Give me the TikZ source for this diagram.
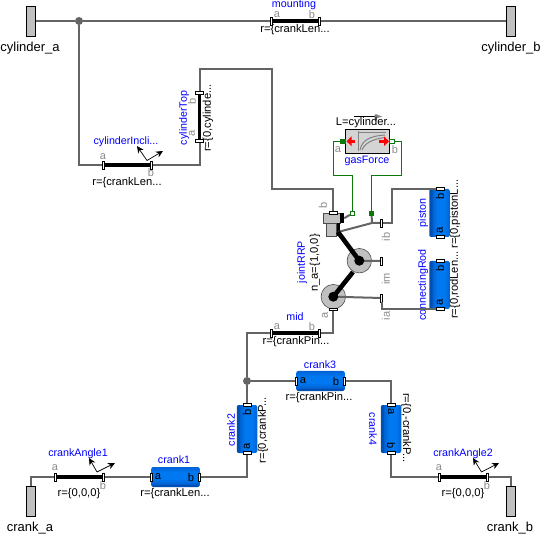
\documentclass[tikz,border=0pt]{standalone}
\usepackage{xcolor}
\usepackage{fontspec}
\setmainfont{Liberation Sans}
\usetikzlibrary{
  arrows.meta,
  shapes,
  shapes.geometric,
  calc
}
\definecolor{msWire}{HTML}{646464}
\definecolor{msGreen}{HTML}{0A780A}
\definecolor{msBlue}{HTML}{0000FF}
\definecolor{msMute}{HTML}{8C8C8C}
\definecolor{msFlange}{HTML}{C0C0C0}
\definecolor{msBox}{HTML}{D4D4D4}
\definecolor{msDark}{HTML}{0050B4}
\definecolor{msBright}{HTML}{0078F0}
\definecolor{msMid}{HTML}{0062D4}
\pgfdeclareverticalshading{rodshade}{100bp}{
  color(0bp)=(msDark); color(31bp)=(msDark); color(33bp)=(msMid);
  color(45bp)=(msBright); color(62bp)=(msBright); color(75bp)=(msMid); color(100bp)=(msMid)
}
\tikzset{
  flange/.style={draw, line width=0.9pt, fill=msFlange, minimum width=9pt, minimum height=30pt, inner sep=0pt},
  hcap/.style={draw, line width=0.8pt, fill=white, minimum width=8pt, minimum height=2.6pt, inner sep=0pt},
  vcap/.style={draw, line width=0.8pt, fill=white, minimum width=2.6pt, minimum height=8pt, inner sep=0pt},
  hbody/.style={rounded corners=2pt, minimum width=48.5pt, minimum height=20pt, inner sep=0pt, shading=rodshade, shading angle=0},
  vbody/.style={rounded corners=2pt, minimum width=20.5pt, minimum height=48pt, inner sep=0pt, shading=rodshade, shading angle=-90},
  dot/.style={circle, fill=msWire, minimum size=8pt, inner sep=0pt},
  disc/.style={circle, draw=black!70, line width=0.6pt, fill=msFlange, minimum size=24.5pt, inner sep=0pt},
  hub/.style={circle, fill=black, minimum size=10pt, inner sep=0pt},
  gport/.style={draw=msGreen, line width=0.9pt, fill=white, minimum size=4.4pt, inner sep=0pt},
  fport/.style={gport, fill=msGreen},
  wire/.style={draw=msWire, line width=2pt},
  gwire/.style={draw=msGreen, line width=1.3pt},
  rodline/.style={line width=3.4pt, black},
  linkline/.style={line width=4.6pt, black},
  frame/.style={-{Stealth[length=7pt, width=6.5pt]}, line width=0.7pt, black},
  force/.style={-{Triangle[length=5pt, width=9.5pt]}, line width=3.2pt, red},
  iconline/.style={draw=msWire!80, line width=1pt},
  title/.style={font=\fontsize{10.7}{12}\selectfont, text=msBlue, inner sep=0pt},
  param/.style={font=\fontsize{11.2}{12}\selectfont, text=black, inner sep=0pt},
  port/.style={font=\fontsize{11}{12}\selectfont, text=msMute, inner sep=0pt},
  inport/.style={font=\fontsize{11.2}{12}\selectfont, text=black, inner sep=0pt},
  flabel/.style={font=\fontsize{13}{14}\selectfont, text=black, inner sep=0pt}
}
\begin{document}
\begin{tikzpicture}[x=1pt, y=-1pt]
  \useasboundingbox[fill=white] (0,0) rectangle (541,537);

  \node[flange] (cylinderA) at (31,21) {};
  \node[flange] (cylinderB) at (511,21) {};
  \node[flange] (crankA) at (31,501) {};
  \node[flange] (crankB) at (511,501) {};
  \node[flabel] (cylinderAText) at (30,48) {cylinder\_a};
  \node[flabel] (cylinderBText) at (511,48) {cylinder\_b};
  \node[flabel] (crankAText) at (30,528) {crank\_a};
  \node[flabel] (crankBText) at (510,528) {crank\_b};
  \node[dot] (topDot) at (79,21) {};
  \node[dot] (midDot) at (247,381) {};

  \node[title] (mountingText) at (294,5) {mounting};
  \node[param] (mountingParam) at (295,29.5) {r=\{crankLen...};
  \node[port] (mountingAText) at (277,15) {a};
  \node[port] (mountingBText) at (312,15) {b};
  \node[title] (inclineText) at (126,141.5) {cylinderIncli...};
  \node[param] (inclineParam) at (127,182.5) {r=\{crankLen...};
  \node[port] (inclineAText) at (103,157) {a};
  \node[port] (inclineBText) at (151,172.5) {b};
  \node[title, rotate=90] (topText) at (184,118) {cylinderTop};
  \node[param, rotate=90] (topParam) at (208,118) {r=\{0,cylinde...};
  \node[port, rotate=90] (topAText) at (192,133) {a};
  \node[port, rotate=90] (topBText) at (192,101) {b};

  \node[title] (midText) at (295,317) {mid};
  \node[param] (midParam) at (296,341.5) {r=\{crankPin...};
  \node[port] (midAText) at (277,327) {a};
  \node[port] (midBText) at (312,327) {b};
  \node[title] (crankOneText) at (174,460) {crank1};
  \node[param] (crankOneParam) at (175,493.5) {r=\{crankLen...};
  \node[title] (crankThreeText) at (320,364.5) {crank3};
  \node[param] (crankThreeParam) at (319,397.5) {r=\{crankPin...};
  \node[title, rotate=90] (crankTwoText) at (231,430) {crank2};
  \node[param, rotate=90] (crankTwoParam) at (263,430) {r=\{0,crankP...};
  \node[title, rotate=-90] (crankFourText) at (373,429) {crank4};
  \node[param, rotate=-90] (crankFourParam) at (406,428) {r=\{0,-crankP...};
  \node[title] (angleOneText) at (78,453.5) {crankAngle1};
  \node[param] (angleOneParam) at (79,493.5) {r=\{0,0,0\}};
  \node[port] (angleOneAText) at (55,468) {a};
  \node[port] (angleOneBText) at (103,486) {b};
  \node[title] (angleTwoText) at (463,453.5) {crankAngle2};
  \node[param] (angleTwoParam) at (463,493.5) {r=\{0,0,0\}};
  \node[port] (angleTwoAText) at (439,468) {a};
  \node[port] (angleTwoBText) at (487,486) {b};

  \node[title, rotate=90] (pistonText) at (423,213) {piston};
  \node[param, rotate=90] (pistonParam) at (455,214) {r=\{0,pistonL...};
  \node[title, rotate=90] (rodText) at (423,285) {connectingRod};
  \node[param, rotate=90] (rodParam) at (455,285) {r=\{0,rodLen...};
  \node[title, rotate=90] (jointText) at (302,262) {jointRRP};
  \node[param, rotate=90] (jointParam) at (315,263) {n\_a=\{1,0,0\}};
  \node[port, rotate=90] (jointBText) at (323,205) {b};
  \node[port, rotate=90] (jointAText) at (325,315) {a};
  \node[port, rotate=90] (ibText) at (386,237) {ib};
  \node[port, rotate=90] (imText) at (386,279) {im};
  \node[port, rotate=90] (iaText) at (386,316) {ia};

  \node[hbody] (crankOne) at (175.5,477) {};
  \node[hbody] (crankThree) at (320.5,381) {};
  \node[vbody] (crankTwo) at (247,429) {};
  \node[vbody] (crankFour) at (391,429) {};
  \node[vbody] (piston) at (439.5,213) {};
  \node[vbody] (connRod) at (439.5,285) {};
  \node[inport] (crankOneAText) at (158,477) {a};
  \node[inport] (crankOneBText) at (191,477) {b};
  \node[inport] (crankThreeAText) at (303,381) {a};
  \node[inport] (crankThreeBText) at (336,381) {b};
  \node[inport, rotate=90] (crankTwoAText) at (247,446) {a};
  \node[inport, rotate=90] (crankTwoBText) at (247,412) {b};
  \node[inport, rotate=-90] (crankFourAText) at (391,412) {a};
  \node[inport, rotate=-90] (crankFourBText) at (391,446) {b};
  \node[inport, rotate=90] (pistonAText) at (440,230) {a};
  \node[inport, rotate=90] (pistonBText) at (440,196) {b};
  \node[inport, rotate=90] (connRodAText) at (440,302) {a};
  \node[inport, rotate=90] (connRodBText) at (440,268) {b};

  \node[disc] (jointUpper) at (359.3,260.7) {};
  \node[disc] (jointLower) at (333.3,296.7) {};
  \node[draw=black!70, line width=0.5pt, fill=msFlange, minimum width=16.5pt, minimum height=10.5pt, inner sep=0pt] (slideHead) at (331.7,218.2) {};
  \node[fill=black, minimum width=4pt, minimum height=10.5pt, inner sep=0pt] (slideCap) at (342,218.2) {};
  \node[draw=black!70, line width=0.5pt, fill=msFlange, minimum width=10.5pt, minimum height=13pt, inner sep=0pt] (slideRod) at (331.3,230) {};
  \node[fill=black, minimum width=3.5pt, minimum height=13pt, inner sep=0pt] (slideEdge) at (338.5,230) {};

  \node[vcap] (mountingA) at (271.5,21) {};
  \node[vcap] (mountingB) at (319.5,21) {};
  \node[vcap] (inclineA) at (103.5,165) {};
  \node[vcap] (inclineB) at (151.5,165) {};
  \node[hcap] (topA) at (199.5,141) {};
  \node[hcap] (topB) at (199.5,93) {};
  \node[vcap] (midA) at (271.5,333) {};
  \node[vcap] (midB) at (319.5,333) {};
  \node[vcap] (angleOneA) at (55.5,477) {};
  \node[vcap] (angleOneB) at (103.5,477) {};
  \node[vcap] (angleTwoA) at (439.5,477) {};
  \node[vcap] (angleTwoB) at (487.5,477) {};
  \node[vcap] (crankOneA) at (151.5,477) {};
  \node[vcap] (crankOneB) at (199.5,477) {};
  \node[vcap] (crankThreeA) at (296.5,381) {};
  \node[vcap] (crankThreeB) at (344.5,381) {};
  \node[hcap] (crankTwoA) at (247,453) {};
  \node[hcap] (crankTwoB) at (247,405) {};
  \node[hcap] (crankFourA) at (391,405) {};
  \node[hcap] (crankFourB) at (391,453) {};
  \node[hcap] (pistonA) at (440,237) {};
  \node[hcap] (pistonB) at (440,189) {};
  \node[hcap] (connRodA) at (440,309) {};
  \node[hcap] (connRodB) at (440,261) {};
  \node[hcap] (jointB) at (333,213) {};
  \node[hcap] (jointA) at (333,309.3) {};
  \node[vcap] (ibCap) at (381.5,223) {};
  \node[vcap] (imCap) at (381.5,261) {};
  \node[vcap] (iaCap) at (381.5,298) {};

  \draw[wire] (cylinderA) -- (topDot);
  \draw[wire] (topDot) -- (mountingA);
  \draw[wire] (mountingB) -- (cylinderB);
  \draw[wire] (topDot) |- (inclineA);
  \draw[wire] (inclineB) -| (topA);
  \draw[wire] (topB.north) |- (271.5,69) |- (333,189) -- (jointB.north);
  \draw[wire] (jointA) |- (midB);
  \draw[wire] (midA) -| (midDot);
  \draw[wire] (midDot) -- (crankTwoB);
  \draw[wire] (midDot) -- (crankThreeA);
  \draw[wire] (crankThreeB) -| (crankFourA);
  \draw[wire] (crankFourB) |- (angleTwoA);
  \draw[wire] (angleTwoB) -| (crankB.north);
  \draw[wire] (crankTwoA) |- (crankOneB);
  \draw[wire] (angleOneB) -- (crankOneA);
  \draw[wire] (angleOneA) -| (crankA.north);
  \draw[wire] (ibCap.east) -| (392,189) -- (pistonB.west);
  \draw[wire] (iaCap.south) |- (connRodA.west);

  \draw[rodline] (mountingA) -- (mountingB);
  \draw[rodline] (inclineA) -- (inclineB);
  \draw[rodline] (topA) -- (topB);
  \draw[rodline] (midA) -- (midB);
  \draw[rodline] (angleOneA) -- (angleOneB);
  \draw[rodline] (angleTwoA) -- (angleTwoB);

  \coordinate (inclineBase) at (147,160.5);
  \coordinate (angleOneBase) at (97,472);
  \coordinate (angleTwoBase) at (481.5,472);
  \draw[frame] (inclineBase) -- (137,146);
  \draw[frame] (inclineBase) -- (163,151);
  \draw[frame] (angleOneBase) -- (89,458);
  \draw[frame] (angleOneBase) -- (115,463);
  \draw[frame] (angleTwoBase) -- (473,458);
  \draw[frame] (angleTwoBase) -- (499,463);

  \node[draw, line width=0.9pt, fill=msBox, minimum width=44.5pt, minimum height=24pt, inner sep=0pt] (gasBox) at (367.5,141.3) {};
  \draw[iconline] (358,131) -- (358,151);
  \draw[iconline] (359,133) -- (386,133);
  \draw[iconline] (360,150) .. controls (362,140) and (370,136) .. (385,135);
  \draw[iconline] (362,150) .. controls (364,144) and (372,139) .. (385,137.5);
  \draw[force] (355,141.3) -- (346.5,141.3);
  \draw[force] (379,141.3) -- (389,141.3);
  \draw[line width=0.7pt, black] (354,116.7) -- (376,116.7);
  \fill[msWire!80] (374.5,114.5) -- (377,114.5) -- (382,116.7) -- (377,118) -- (377,120.5) -- (374.5,120.5) -- cycle;
  \node[param] (gasParam) at (366,123) {L=cylinder...};
  \node[title] (gasText) at (367,161) {gasForce};
  \node[port] (gasAText) at (338,149.5) {a};
  \node[port] (gasBText) at (395,149.5) {b};
  \node[fport] (gasA) at (343,141.3) {};
  \node[gport] (gasB) at (391.8,141.3) {};
  \node[gport] (jointAxis) at (352.5,213.3) {};
  \node[fport] (jointBearing) at (371.5,213.3) {};
  \coordinate (gasLeftTurn) at (333.5,175.7);
  \coordinate (gasRightTurn) at (401.5,175.7);
  \draw[gwire] (gasA) -| (gasLeftTurn) -| (jointAxis);
  \draw[gwire] (gasB) -| (gasRightTurn) -| (jointBearing);

  \draw[wire] (slideCap.east) -- (jointAxis);
  \coordinate (slideFoot) at (338,232);
  \coordinate (ibBend) at (372,223);
  \draw[wire] (jointBearing) -- (ibBend);
  \draw[wire] (slideFoot) -- (ibBend) -- (ibCap);

  \draw[wire] (jointUpper.center) -- (imCap);
  \draw[wire] (jointLower.center) -- (iaCap);
  \draw[linkline] (slideFoot) -- (jointUpper.center);
  \draw[linkline] (jointLower.center) -- (353,272);
  \node[hub] (hubUpper) at (359.3,260.7) {};
  \node[hub] (hubLower) at (333.3,296.7) {};
\end{tikzpicture}
\end{document}
